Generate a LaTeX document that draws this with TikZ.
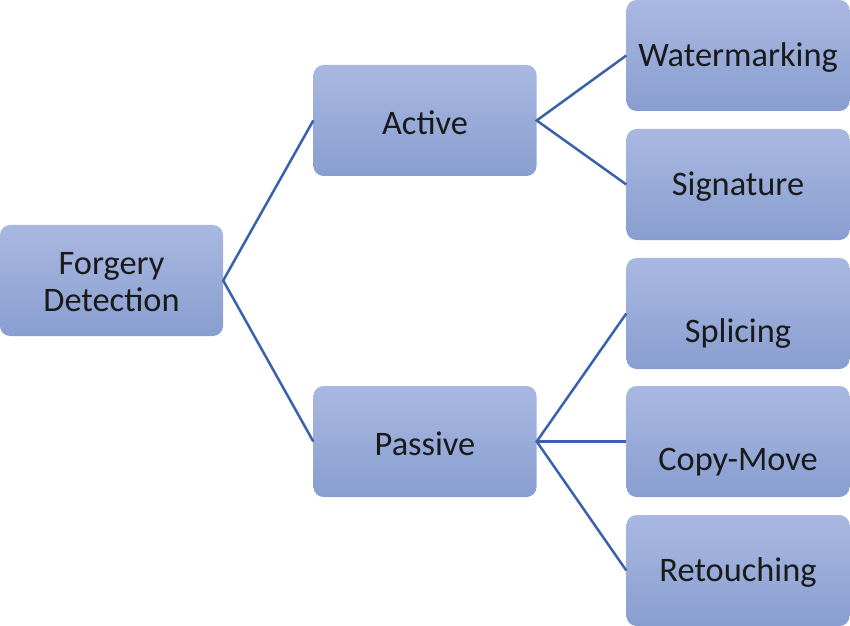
\documentclass[tikz,border=0pt]{standalone}
\usepackage{fontspec}
\setmainfont{Carlito}
\definecolor{boxtop}{HTML}{A9B8E1}
\definecolor{boxbot}{HTML}{889ED0}
\definecolor{linkc}{HTML}{3A62AC}
\definecolor{txt}{HTML}{1A1A1A}
\begin{document}
\begin{tikzpicture}[x=1bp,y=-1bp,
  box/.style={minimum width=223bp,minimum height=111bp,inner sep=0pt,
    rounded corners=10bp,top color=boxtop,bottom color=boxbot,draw=none},
  lbl/.style={font=\fontsize{34.5}{37}\selectfont,text=txt,align=center,yshift=-2bp},
  link/.style={draw=linkc,line width=2.5bp}]
\useasboundingbox (0,0) rectangle (850,626);
\node[box] (fd) at (111.5,280.5) {};
\node[box] (ac) at (425,120.5) {};
\node[box] (pa) at (425,441.5) {};
\node[box] (wm) at (738,55.5) {};
\node[box] (sg) at (738,184.5) {};
\node[box] (sp) at (738,313.5) {};
\node[box] (cm) at (738,441.5) {};
\node[box] (rt) at (738,570.5) {};
\node[lbl] (tfd) at (fd.center) {Forgery\\Detection};
\node[lbl] (tac) at (ac.center) {Active};
\node[lbl] (tpa) at (pa.center) {Passive};
\node[lbl] (twm) at (wm.center) {Watermarking};
\node[lbl] (tsg) at (sg.center) {Signature};
\node[lbl] (tsp) at ([yshift=-18bp]sp.center) {Splicing};
\node[lbl] (tcm) at ([yshift=-19bp]cm.center) {Copy-Move};
\node[lbl] (trt) at (rt.center) {Retouching};
\draw[link] (ac.west) -- (fd.east) -- (pa.west);
\draw[link] (wm.west) -- (ac.east) -- (sg.west);
\draw[link] (sp.west) -- (pa.east) -- (rt.west);
\draw[link] (pa.east) -- (cm.west);
\end{tikzpicture}
\end{document}
